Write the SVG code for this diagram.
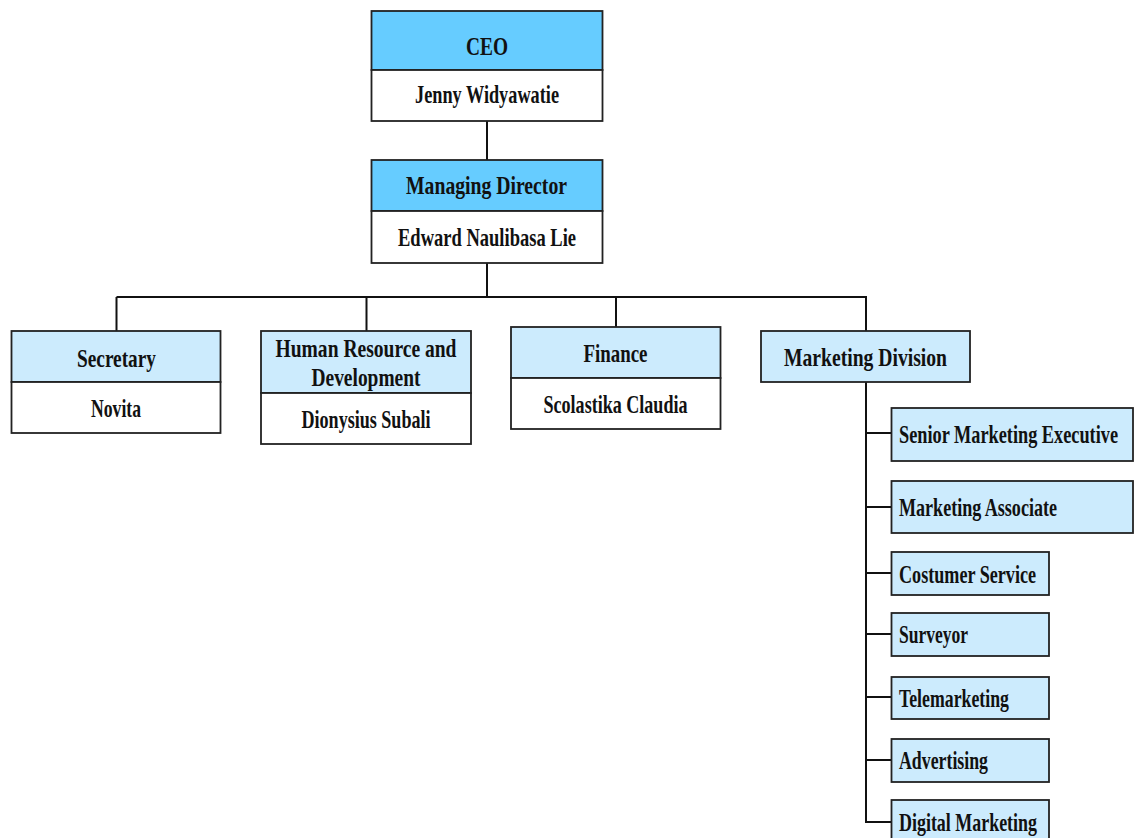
<svg xmlns="http://www.w3.org/2000/svg" width="1135" height="838" viewBox="0 0 1135 838">
<style>
.hd{fill:#66CCFF;stroke:#222;stroke-width:1.8}
.lt{fill:#CCEBFD;stroke:#222;stroke-width:1.8}
.wh{fill:#FFFFFF;stroke:#222;stroke-width:1.8}
.t{font-family:"Liberation Serif","Times New Roman",serif;font-weight:bold;font-size:25px;fill:#111}
.c{text-anchor:middle}
.ln{stroke:#111;stroke-width:2;fill:none}
</style>
<rect width="1135" height="838" fill="#FFFFFF"/>
<g id="connectors">
<line class="ln" x1="487" y1="121" x2="487" y2="160"/>
<line class="ln" x1="487" y1="263" x2="487" y2="297"/>
<line class="ln" x1="116.5" y1="297" x2="866" y2="297"/>
<line class="ln" x1="116.5" y1="297" x2="116.5" y2="331"/>
<line class="ln" x1="366.5" y1="297" x2="366.5" y2="331"/>
<line class="ln" x1="616" y1="297" x2="616" y2="327"/>
<line class="ln" x1="866" y1="296" x2="866" y2="331"/>
<line class="ln" x1="866" y1="382" x2="866" y2="822"/>
<line class="ln" x1="865" y1="433" x2="891" y2="433"/>
<line class="ln" x1="865" y1="507" x2="891" y2="507"/>
<line class="ln" x1="865" y1="573" x2="891" y2="573"/>
<line class="ln" x1="865" y1="634" x2="891" y2="634"/>
<line class="ln" x1="865" y1="697" x2="891" y2="697"/>
<line class="ln" x1="865" y1="760" x2="891" y2="760"/>
<line class="ln" x1="865" y1="822" x2="891" y2="822"/>
</g>
<g id="ceo">
<rect class="hd" x="371.5" y="11" width="231" height="59"/>
<rect class="wh" x="371.5" y="70" width="231" height="51"/>
<text class="t c" x="487" y="55" textLength="42" lengthAdjust="spacingAndGlyphs">CEO</text>
<text class="t c" x="487" y="103" textLength="144" lengthAdjust="spacingAndGlyphs">Jenny Widyawatie</text>
</g>
<g id="managing-director">
<rect class="hd" x="371.5" y="160" width="231" height="51"/>
<rect class="wh" x="371.5" y="211" width="231" height="52"/>
<text class="t c" x="486.5" y="194" textLength="161" lengthAdjust="spacingAndGlyphs">Managing Director</text>
<text class="t c" x="487" y="246" textLength="178" lengthAdjust="spacingAndGlyphs">Edward Naulibasa Lie</text>
</g>
<g id="secretary">
<rect class="lt" x="11.5" y="331" width="209" height="51"/>
<rect class="wh" x="11.5" y="382" width="209" height="51"/>
<text class="t c" x="116.5" y="367" textLength="79" lengthAdjust="spacingAndGlyphs">Secretary</text>
<text class="t c" x="116" y="416.5" textLength="50" lengthAdjust="spacingAndGlyphs">Novita</text>
</g>
<g id="hrd">
<rect class="lt" x="261" y="331" width="210" height="62"/>
<rect class="wh" x="261" y="393" width="210" height="51"/>
<text class="t c" x="366" y="356.5" textLength="181" lengthAdjust="spacingAndGlyphs">Human Resource and</text>
<text class="t c" x="366" y="386" textLength="109" lengthAdjust="spacingAndGlyphs">Development</text>
<text class="t c" x="366" y="428" textLength="129" lengthAdjust="spacingAndGlyphs">Dionysius Subali</text>
</g>
<g id="finance">
<rect class="lt" x="511" y="327" width="209.5" height="51"/>
<rect class="wh" x="511" y="378" width="209.5" height="51"/>
<text class="t c" x="615.5" y="361.5" textLength="64" lengthAdjust="spacingAndGlyphs">Finance</text>
<text class="t c" x="615.5" y="413" textLength="144" lengthAdjust="spacingAndGlyphs">Scolastika Claudia</text>
</g>
<g id="marketing-division">
<rect class="lt" x="761" y="331" width="209" height="51"/>
<text class="t c" x="865.5" y="366" textLength="163" lengthAdjust="spacingAndGlyphs">Marketing Division</text>
</g>
<g id="senior-marketing-executive">
<rect class="lt" x="891.5" y="408" width="241.5" height="53"/>
<text class="t" x="899" y="443" textLength="219" lengthAdjust="spacingAndGlyphs">Senior Marketing Executive</text>
</g>
<g id="marketing-associate">
<rect class="lt" x="891.5" y="481" width="241.5" height="52"/>
<text class="t" x="899" y="515.5" textLength="158" lengthAdjust="spacingAndGlyphs">Marketing Associate</text>
</g>
<g id="costumer-service">
<rect class="lt" x="891.5" y="552" width="157.5" height="43"/>
<text class="t" x="899" y="582.5" textLength="137" lengthAdjust="spacingAndGlyphs">Costumer Service</text>
</g>
<g id="surveyor">
<rect class="lt" x="891.5" y="613" width="157.5" height="43"/>
<text class="t" x="899" y="643" textLength="69" lengthAdjust="spacingAndGlyphs">Surveyor</text>
</g>
<g id="telemarketing">
<rect class="lt" x="891.5" y="677" width="157.5" height="42"/>
<text class="t" x="899" y="706.5" textLength="110" lengthAdjust="spacingAndGlyphs">Telemarketing</text>
</g>
<g id="advertising">
<rect class="lt" x="891.5" y="739" width="157.5" height="43"/>
<text class="t" x="899" y="769" textLength="89" lengthAdjust="spacingAndGlyphs">Advertising</text>
</g>
<g id="digital-marketing">
<rect class="lt" x="891.5" y="800" width="157.5" height="50"/>
<text class="t" x="899" y="830.5" textLength="138" lengthAdjust="spacingAndGlyphs">Digital Marketing</text>
</g>
</svg>
